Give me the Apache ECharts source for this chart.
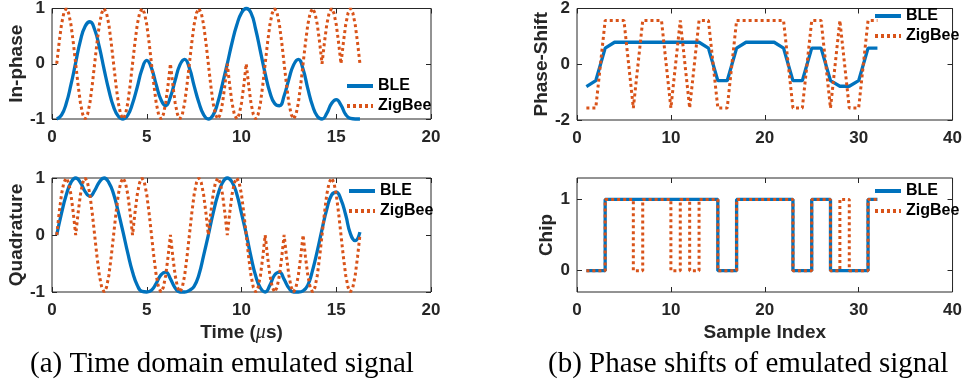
<!DOCTYPE html>
<html><head><meta charset="utf-8">
<script src="https://cdn.jsdelivr.net/npm/echarts@6/dist/echarts.min.js"></script>
<style>html,body{margin:0;padding:0;background:#fff}#c{width:965px;height:390px}</style>
</head><body><div id="c"></div>
<script>
// ---------- data ----------
// BLE time samples (us)
const tBle = [0.25,0.5,0.75,
 1,1.25,1.5,1.75, 2,2.25,2.5,2.75, 3,3.25,3.5,3.75, 4,4.25,4.5,4.75, 5,5.25,5.5,5.75,
 6,6.25,6.5,6.75, 7,7.25,7.5,7.75, 8,8.25,8.5,8.75, 9,9.25,9.5,9.75, 10,10.25,10.5,10.75,
 11,11.25,11.5,11.75, 12,12.25,12.5,12.75, 13,13.25,13.5,13.75, 14,14.25,14.5,14.75,
 15,15.25,15.5,15.75, 16,16.25];
const bleI = [-1,-0.93,-0.72,-0.38, 0.02,0.42,0.68,0.76, 0.62,0.3,-0.1,-0.48, -0.78,-0.95,-1,-0.93,
 -0.72,-0.42,-0.1,0.06, -0.08,-0.38,-0.65,-0.76, -0.6,-0.3,-0.02,0.08, -0.08,-0.4,-0.7,-0.92,
 -1,-0.93,-0.7,-0.36, 0,0.38,0.7,0.92, 1,0.92,0.62,0.22, -0.18,-0.52,-0.72,-0.76,
 -0.58,-0.28,-0.02,0.08, -0.1,-0.45,-0.76,-0.95, -1,-0.9,-0.72,-0.65, -0.75,-0.92,-0.99,-1, -1];
const bleQ = [0,0.38,0.7,0.92, 1,0.92,0.76,0.68, 0.78,0.93,1,0.92, 0.72,0.4,0.05,-0.32,
 -0.65,-0.88,-0.99,-1, -0.97,-0.85,-0.7,-0.65, -0.77,-0.93,-1,-1, -0.97,-0.9,-0.7,-0.36,
 0,0.38,0.7,0.92, 1,0.93,0.72,0.38, 0.02,-0.38,-0.72,-0.93, -1,-0.88,-0.7,-0.65,
 -0.78,-0.93,-1,-1, -0.98,-0.88,-0.62,-0.28, 0.1,0.45,0.7,0.75, 0.62,0.35,0.02,-0.1, 0.05];

// ZigBee time samples (us)
const tZig = [0.25,0.375,0.5,0.625,0.75,0.875,
 1,1.125,1.25,1.375,1.5,1.625,1.75,1.875,
 2,2.125,2.25,2.375,2.5,2.625,2.75,2.875,
 3,3.125,3.25,3.375,3.5,3.625,3.75,3.875,
 4,4.125,4.25,4.375,4.5,4.625,4.75,4.875,
 5,5.125,5.25,5.375,5.5,5.625,5.75,5.875,
 6,6.125,6.25,6.375,6.5,6.625,6.75,6.875,
 7,7.125,7.25,7.375,7.5,7.625,7.75,7.875,
 8,8.125,8.25,8.375,8.5,8.625,8.75,8.875,
 9,9.125,9.25,9.375,9.5,9.625,9.75,9.875,
 10,10.125,10.25,10.375,10.5,10.625,10.75,10.875,
 11,11.125,11.25,11.375,11.5,11.625,11.75,11.875,
 12,12.125,12.25,12.375,12.5,12.625,12.75,12.875,
 13,13.125,13.25,13.375,13.5,13.625,13.75,13.875,
 14,14.125,14.25,14.375,14.5,14.625,14.75,14.875,
 15,15.125,15.25,15.375,15.5,15.625,15.75,15.875,
 16,16.125,16.25];
const zigI = [
 0,0.38,0.71,0.92,1,0.92,0.71,0.38,
 0,-0.38,-0.71,-0.92,-1,-0.92,-0.71,-0.38,
 0,0.38,0.71,0.92,1,0.92,0.71,0.38,
 0,-0.38,-0.71,-0.92,-1,-0.92,-0.71,-0.38,
 0,0.38,0.71,0.92,1,0.92,0.71,0.38,
 0,-0.38,-0.71,-0.92,-1,-0.92,-0.71,-0.38,
 0,-0.38,-0.71,-0.92,-1,-0.92,-0.71,-0.38,
 0,0.38,0.71,0.92,1,0.92,0.71,0.38,
 0,-0.38,-0.71,-0.92,-1,-0.92,-0.71,-0.38,
 0,-0.38,-0.71,-0.92,-1,-0.92,-0.71,-0.38,
 0,-0.38,-0.71,-0.92,-1,-0.92,-0.71,-0.38,
 0,0.38,0.71,0.92,1,0.92,0.71,0.38,
 0,-0.38,-0.71,-0.92,-1,-0.92,-0.71,-0.38,
 0,0.38,0.71,0.92,1,0.92,0.71,0.38,
 0,0.38,0.71,0.92,1,0.92,0.71,0.38,
 0,0.38,0.71,0.92,1,0.92,0.71,0.38,
 0];
const zigQ = [
 0,0.38,0.71,0.92,1,0.92,0.71,0.38,
 0,0.38,0.71,0.92,1,0.92,0.71,0.38,
 0,-0.38,-0.71,-0.92,-1,-0.92,-0.71,-0.38,
 0,0.38,0.71,0.92,1,0.92,0.71,0.38,
 0,0.38,0.71,0.92,1,0.92,0.71,0.38,
 0,-0.38,-0.71,-0.92,-1,-0.92,-0.71,-0.38,
 0,-0.38,-0.71,-0.92,-1,-0.92,-0.71,-0.38,
 0,0.38,0.71,0.92,1,0.92,0.71,0.38,
 0,0.38,0.71,0.92,1,0.92,0.71,0.38,
 0,0.38,0.71,0.92,1,0.92,0.71,0.38,
 0,-0.38,-0.71,-0.92,-1,-0.92,-0.71,-0.38,
 0,-0.38,-0.71,-0.92,-1,-0.92,-0.71,-0.38,
 0,-0.38,-0.71,-0.92,-1,-0.92,-0.71,-0.38,
 0,-0.38,-0.71,-0.92,-1,-0.92,-0.71,-0.38,
 0,0.38,0.71,0.92,1,0.92,0.71,0.38,
 0,-0.38,-0.71,-0.92,-1,-0.92,-0.71,-0.38,
 0];

// Sample index 1..32
const sampleIdx = [1,2,3,4,5,6,7,8,9,10,11,12,13,14,15,16,17,18,19,20,21,22,23,24,25,26,27,28,29,30,31,32];
const bleShift = [-0.8,-0.59,0.58,0.79,0.79,0.79,0.79,0.79,0.79,0.79,0.79,0.79,0.79,0.58,-0.59,-0.59,
 0.58,0.79,0.79,0.79,0.79,0.58,-0.59,-0.59,0.58,0.58,-0.59,-0.79,-0.79,-0.59,0.58,0.58];
const zigShift = [-1.57,-1.57,1.57,1.57,1.57,-1.57,1.57,1.57,1.57,-1.57,1.57,-1.57,1.57,1.57,-1.57,-1.57,
 1.57,1.57,1.57,1.57,1.57,1.57,-1.57,-1.57,1.57,1.57,-1.57,1.57,-1.57,-1.57,1.57,1.57];
const bleChip = [0,0,1,1,1,1,1,1,1,1,1,1,1,1,0,0,1,1,1,1,1,1,0,0,1,1,0,0,0,0,1,1];
const zigChip = [0,0,1,1,1,0,1,1,1,0,1,0,1,1,0,0,1,1,1,1,1,1,0,0,1,1,0,1,0,0,1,1];

// tick labels
const timeTicks = [0,5,10,15,20];
const sampleTicks = [0,10,20,30,40];
const iqTicks = [-1,0,1];
const shiftTicks = [-2,0,2];
const chipTicks = [0,1];
const chipRange = [-0.3,1.3];

const seriesNames = ['BLE','ZigBee'];
const yNames = ['In-phase','Quadrature','Phase-Shift','Chip'];
const captions = ['(a) Time domain emulated signal','(b) Phase shifts of emulated signal'];

// ---------- chart ----------
const AX = '#262626';
const BLUE = '#0072BD', ORANGE = '#D95319';
const SANS = 'Liberation Sans';
const chart = echarts.init(document.getElementById('c'), null, {renderer:'canvas'});

const grids = [
  {left:52, top:6, width:379, height:113},
  {left:52, top:178, width:379, height:114},
  {left:577, top:6, width:377, height:114},
  {left:577, top:178, width:377, height:114}
].map(g => Object.assign(g, {show:true, borderColor:AX, borderWidth:1, backgroundColor:'transparent'}));

function rangeOf(ticks){ return {min:ticks[0], max:ticks[ticks.length-1], interval:ticks[1]-ticks[0]}; }

const labelStyle = {color:AX, fontWeight:'bold', fontSize:17, fontFamily:SANS};
const nameStyle = {color:AX, fontWeight:'bold', fontSize:19, fontFamily:SANS};
const noLine = {show:false, onZero:false};

const xAxes = [], yAxes = [];
const xDefs = [
  {ticks:timeTicks, name:''},
  {ticks:timeTicks, name:'Time ({mu|\u03bc}s)'},
  {ticks:sampleTicks, name:''},
  {ticks:sampleTicks, name:'Sample Index'}
];
const yDefs = [
  {r:rangeOf(iqTicks), gap:25},
  {r:rangeOf(iqTicks), gap:25},
  {r:rangeOf(shiftTicks), gap:24},
  {r:{min:chipRange[0], max:chipRange[1]}, custom:chipTicks, gap:19}
];
for (let g=0; g<4; g++){
  const xr = rangeOf(xDefs[g].ticks);
  xAxes.push(Object.assign({type:'value', gridIndex:g, position:'bottom',
    axisLine:noLine, splitLine:{show:false},
    axisTick:{inside:true, length:5, lineStyle:{color:AX}},
    axisLabel:Object.assign({margin:10, showMinLabel:true, showMaxLabel:true}, labelStyle),
    name:xDefs[g].name, nameLocation:'middle', nameGap:31,
    nameTextStyle:Object.assign({rich:{mu:{fontStyle:'italic', fontWeight:'normal', fontSize:20, fontFamily:'Liberation Serif', color:AX}}}, nameStyle)
  }, xr));
  xAxes.push(Object.assign({type:'value', gridIndex:g, position:'top',
    axisLine:noLine, splitLine:{show:false},
    axisTick:{inside:true, length:5, lineStyle:{color:AX}},
    axisLabel:{show:false}}, xr));
  const yd = yDefs[g];
  const yl = {type:'value', gridIndex:g, position:'left',
    axisLine:noLine, splitLine:{show:false},
    axisTick:{inside:true, length:5, lineStyle:{color:AX}},
    axisLabel:Object.assign({margin:7, showMinLabel:true, showMaxLabel:true}, labelStyle),
    name:yNames[g], nameLocation:'middle', nameGap:yd.gap, nameRotate:90, nameTextStyle:nameStyle};
  const yr = {type:'value', gridIndex:g, position:'right',
    axisLine:noLine, splitLine:{show:false},
    axisTick:{inside:true, length:5, lineStyle:{color:AX}},
    axisLabel:{show:false}};
  Object.assign(yl, yd.r); Object.assign(yr, yd.r);
  if (yd.custom){
    yl.axisLabel.customValues = yd.custom; yl.axisTick.customValues = yd.custom;
    yr.axisTick.customValues = yd.custom;
  }
  yAxes.push(yl, yr);
}

function pairs(xs, ys){ return xs.map((x,i)=>[x, ys[i]]); }
function bleSeries(g, data, extra){
  return Object.assign({type:'line', name:seriesNames[0], xAxisIndex:2*g, yAxisIndex:2*g, data:data,
    symbol:'none', showSymbol:false, clip:false, z:2,
    lineStyle:{color:BLUE, width:3.3}, itemStyle:{color:BLUE}}, extra||{});
}
function zigSeries(g, data, extra){
  return Object.assign({type:'line', name:seriesNames[1], xAxisIndex:2*g, yAxisIndex:2*g, data:data,
    symbol:'none', showSymbol:false, clip:false, z:3,
    lineStyle:{color:ORANGE, width:3, type:[3,3], cap:'butt'}, itemStyle:{color:ORANGE}}, extra||{});
}

const series = [
  bleSeries(0, pairs(tBle, bleI), {smooth:0.5}),
  zigSeries(0, pairs(tZig, zigI)),
  bleSeries(1, pairs(tBle, bleQ), {smooth:0.5}),
  zigSeries(1, pairs(tZig, zigQ)),
  bleSeries(2, pairs(sampleIdx, bleShift)),
  zigSeries(2, pairs(sampleIdx, zigShift)),
  bleSeries(3, pairs(sampleIdx, bleChip), {step:'end'}),
  zigSeries(3, pairs(sampleIdx, zigChip), {step:'end'})
];

const legendPos = [[345,78],[347,183],[873,8],[873,183]];
const legends = legendPos.map(p => ({
  data:seriesNames, orient:'vertical', left:p[0], top:p[1], padding:0,
  itemWidth:26, itemHeight:16, itemGap:4, selectedMode:false,
  itemStyle:{opacity:0, borderWidth:0},
  lineStyle:{width:4},
  textStyle:{color:'#000', fontWeight:'bold', fontSize:16, fontFamily:SANS, lineHeight:16}
}));

const titles = [
  {text:captions[0], left:30, top:350},
  {text:captions[1], left:548, top:350}
].map(t => Object.assign(t, {padding:0, textStyle:{fontFamily:'Liberation Serif', fontWeight:'normal', fontSize:29, color:'#000'}}));

chart.setOption({
  animation:false,
  backgroundColor:'#fff',
  title:titles,
  grid:grids,
  xAxis:xAxes,
  yAxis:yAxes,
  legend:legends,
  series:series
});
</script>
</body></html>
